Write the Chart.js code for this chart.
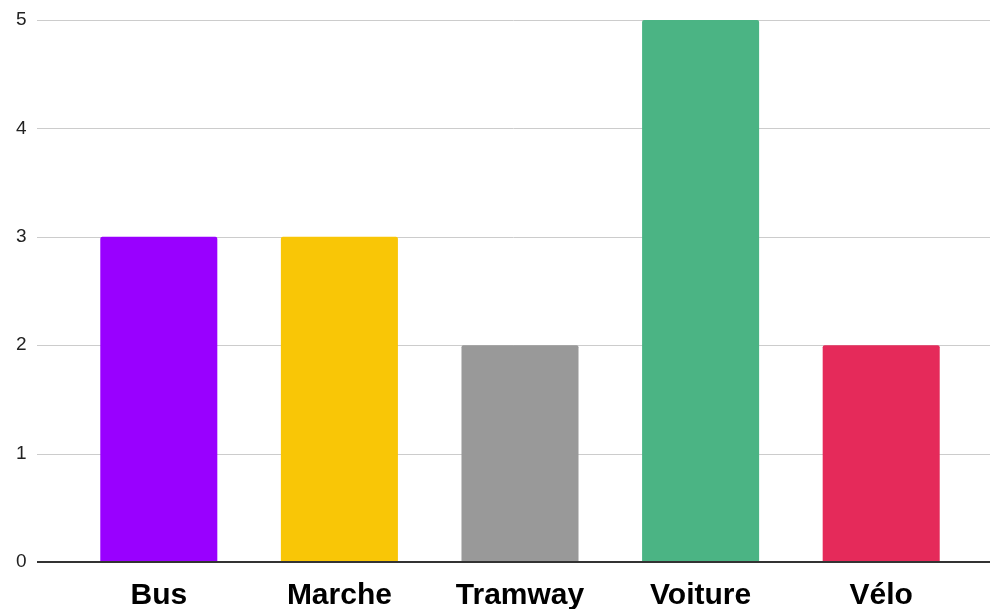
<!DOCTYPE html>
<html><head><meta charset="utf-8">
<script src="https://cdn.jsdelivr.net/npm/chart.js@4"></script>
<style>html,body{margin:0;padding:0;background:#fff}#wrap{width:990px;height:609px;position:relative}</style>
</head><body><div id="wrap"><canvas id="c"></canvas></div>
<script>
const categories = ["Bus", "Marche", "Tramway", "Voiture", "Vélo"];
const values = [3, 3, 2, 5, 2];
const barColors = ["#9900ff", "#f9c606", "#999999", "#4bb484", "#e52a5a"];
const yTicks = [0, 1, 2, 3, 4, 5];

const gridPlugin = {
  id: 'extGrid',
  beforeDatasetsDraw(chart) {
    const ctx = chart.ctx, y = chart.scales.y;
    ctx.save();
    ctx.strokeStyle = '#cccccc'; ctx.lineWidth = 1;
    yTicks.forEach(v => {
      if (v === 0) return;
      const py = Math.round(y.getPixelForValue(v)) + 0.5;
      ctx.beginPath(); ctx.moveTo(37, py); ctx.lineTo(chart.width, py); ctx.stroke();
    });
    ctx.restore();
  },
  afterDatasetsDraw(chart) {
    const ctx = chart.ctx, y = chart.scales.y;
    const py = Math.round(y.getPixelForValue(0));
    ctx.save();
    ctx.strokeStyle = '#333333'; ctx.lineWidth = 2;
    ctx.beginPath(); ctx.moveTo(37, py); ctx.lineTo(chart.width, py); ctx.stroke();
    ctx.restore();
  }
};

new Chart(document.getElementById('c'), {
  type: 'bar',
  data: {
    labels: categories,
    datasets: [{ data: values, backgroundColor: barColors, borderRadius: {topLeft: 2, topRight: 2}, borderSkipped: 'start',
      categoryPercentage: 1, barPercentage: 0.648 }]
  },
  options: {
    responsive: true, maintainAspectRatio: false, animation: false,
    layout: { padding: { top: 20, right: 18.5, left: 0, bottom: 0 } },
    plugins: { legend: { display: false }, tooltip: { enabled: false } },
    scales: {
      x: {
        grid: { display: false, drawTicks: false }, border: { display: false },
        ticks: { color: '#000', font: { family: 'Liberation Sans, Arial, sans-serif', size: 30, weight: 'bold' }, padding: 16 },
        afterFit(s) { s.height = 47; s.paddingLeft = 0; s.paddingRight = 0; }
      },
      y: {
        min: 0, max: 5,
        grid: { display: false, drawTicks: false }, border: { display: false },
        afterBuildTicks(s) { s.ticks = yTicks.map(v => ({ value: v })); },
        ticks: { color: '#222', font: { family: 'Liberation Sans, Arial, sans-serif', size: 19 }, padding: 42 },
        afterFit(s) { s.width = 68.5; s.paddingTop = 0; s.paddingBottom = 0; }
      }
    }
  },
  plugins: [gridPlugin]
});
</script></body></html>
